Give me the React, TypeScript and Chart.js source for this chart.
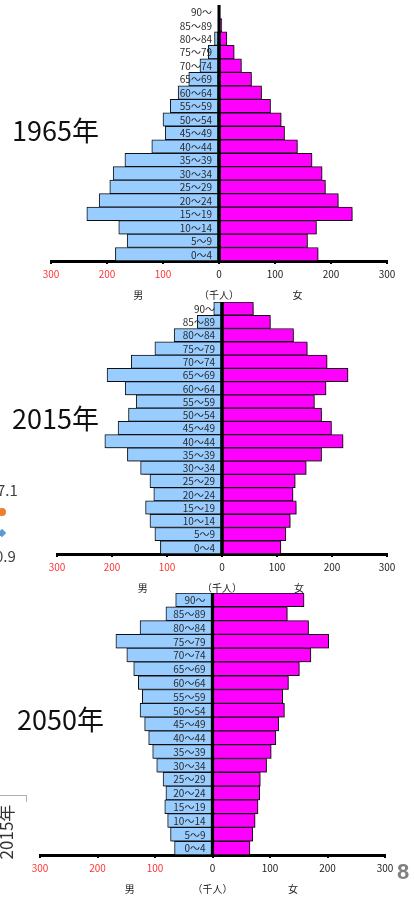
import React, { useEffect, useRef } from 'react';
import { Chart, registerables } from 'chart.js';
Chart.register(...registerables);

const ageGroups = ['90～', '85～89', '80～84', '75～79', '70～74', '65～69', '60～64', '55～59', '50～54', '45～49', '40～44', '35～39', '30～34', '25～29', '20～24', '15～19', '10～14', '5～9', '0～4'];

const male1965 = [0, 1, 8, 19, 34, 54, 73, 87, 100, 96, 120, 168, 189, 195, 214, 236, 179, 164, 185];
const female1965 = [1, 5, 14, 27, 40, 58, 76, 92, 111, 117, 140, 166, 184, 190, 213, 238, 174, 158, 177];
const male2015 = [15, 45, 87, 122, 165, 209, 176, 156, 170, 189, 213, 172, 148, 131, 124, 139, 131, 122, 112];
const female2015 = [57, 88, 130, 155, 191, 229, 189, 168, 181, 199, 220, 181, 153, 133, 129, 135, 124, 116, 107];
const male2050 = [64, 81, 126, 168, 149, 137, 129, 122, 126, 118, 111, 104, 97, 86, 81, 83, 78, 73, 66];
const female2050 = [159, 130, 167, 202, 171, 151, 132, 122, 125, 115, 110, 102, 94, 83, 82, 79, 74, 70, 65];

const axisMin = -300;
const axisMax = 300;
const axisStep = 100;
const sexLabels = ['男', '（千人）', '女'];
const sexLabelValues = [-144, 0, 140];

const JP = '"Noto Sans CJK JP", "Noto Sans", sans-serif';

type PyrProps = {
  top: number;
  height: number;
  padTop: number;
  padLeft: number;
  padRight: number;
  axisH: number;
  male: number[];
  female: number[];
};

function Pyramid({ top, height, padTop, padLeft, padRight, axisH, male, female }: PyrProps) {
  const ref = useRef<HTMLCanvasElement | null>(null);
  useEffect(() => {
    if (!ref.current) return;
    const overlay = {
      id: 'overlay',
      beforeDatasetsDraw(chart: any) {
        const ctx = chart.ctx;
        ctx.save();
        ctx.shadowColor = 'rgba(0,0,0,0.3)';
        ctx.shadowOffsetX = 1;
        ctx.shadowOffsetY = 1;
        ctx.shadowBlur = 1;
      },
      afterDatasetsDraw(chart: any) {
        const ctx = chart.ctx;
        ctx.restore();
        const xs = chart.scales.x;
        const ys = chart.scales.y;
        const area = chart.chartArea;
        const x0 = xs.getPixelForValue(0);
        ctx.save();
        ctx.fillStyle = '#000';
        ctx.fillRect(x0 - 1.5, area.top, 3, area.bottom - area.top);
        ctx.font = `10px ${JP}`;
        ctx.fillStyle = '#2a2a2a';
        ctx.textAlign = 'right';
        ctx.textBaseline = 'middle';
        ageGroups.forEach((g, i) => {
          ctx.fillText(g, x0 - 7, ys.getPixelForValue(i) + 0.5);
        });
        ctx.textAlign = 'center';
        ctx.fillStyle = '#222';
        sexLabels.forEach((s, i) => {
          ctx.fillText(s, xs.getPixelForValue(sexLabelValues[i]), area.bottom + 34);
        });
        ctx.restore();
      },
    };
    const chart = new Chart(ref.current, {
      type: 'bar',
      data: {
        labels: ageGroups,
        datasets: [
          {
            label: '男',
            data: male.map((v) => -v),
            backgroundColor: '#99CCFF',
            borderColor: '#111',
            borderWidth: 1,
            borderSkipped: false,
            barPercentage: 1,
            categoryPercentage: 1,
          },
          {
            label: '女',
            data: female,
            backgroundColor: '#FF00FF',
            borderColor: '#111',
            borderWidth: 1,
            borderSkipped: false,
            barPercentage: 1,
            categoryPercentage: 1,
          },
        ],
      },
      options: {
        indexAxis: 'y',
        responsive: false,
        maintainAspectRatio: false,
        animation: false,
        layout: { padding: { top: padTop, left: padLeft, right: padRight, bottom: 0 } },
        plugins: { legend: { display: false }, tooltip: { enabled: false } },
        scales: {
          x: {
            stacked: true,
            min: axisMin,
            max: axisMax,
            afterFit: (s: any) => {
              s.height = axisH;
            },
            ticks: {
              stepSize: axisStep,
              padding: 4,
              font: { family: JP, size: 10 },
              color: (c: any) => (c.tick && c.tick.value < 0 ? '#FF3333' : '#222'),
              callback: (v: any) => String(Math.abs(Number(v))),
              maxRotation: 0,
            },
            grid: { drawOnChartArea: false, drawTicks: true, tickLength: 3, color: '#000', lineWidth: 2 },
            border: { display: true, color: '#000', width: 3 },
          },
          y: { stacked: true, display: false },
        },
      },
      plugins: [overlay],
    } as any);
    return () => chart.destroy();
  }, []);
  return (
    <canvas
      ref={ref}
      width={414}
      height={height}
      style={{ position: 'absolute', left: 0, top, width: 414, height }}
    />
  );
}

const abs = (s: React.CSSProperties): React.CSSProperties => ({ position: 'absolute', whiteSpace: 'nowrap', ...s });

export default function App() {
  return (
    <div style={{ position: 'absolute', left: 0, top: 0, width: 414, height: 899, overflow: 'hidden', background: '#fff', fontFamily: JP }}>
      <Pyramid top={0} height={300} padTop={5} padLeft={51} padRight={27} axisH={39} male={male1965} female={female1965} />
      <Pyramid top={290} height={310} padTop={12} padLeft={57} padRight={27} axisH={46} male={male2015} female={female2015} />
      <Pyramid top={580} height={319} padTop={13} padLeft={40} padRight={29} axisH={44} male={male2050} female={female2050} />

      <div style={abs({ left: 12, top: 115, fontSize: 27, lineHeight: '30px', color: '#111' })}>1965年</div>
      <div style={abs({ left: 12, top: 403, fontSize: 27, lineHeight: '30px', color: '#111' })}>2015年</div>
      <div style={abs({ left: 17, top: 704, fontSize: 27, lineHeight: '30px', color: '#111' })}>2050年</div>

      <div style={abs({ left: -3, top: 480, fontSize: 15, lineHeight: '20px', color: '#404040' })}>7.1</div>
      <div style={abs({ left: -2, top: 508, width: 8, height: 8, borderRadius: 4, background: '#ED7D31' })} />
      <div style={abs({ left: -1, top: 530, width: 6, height: 6, background: '#5B9BD5', transform: 'rotate(45deg)' })} />
      <div style={abs({ left: -5, top: 546, fontSize: 15, lineHeight: '20px', color: '#404040' })}>0.9</div>

      <div style={abs({ left: 0, top: 795, width: 26, height: 0, borderTop: '1px solid #b0b0b0' })} />
      <div style={abs({ left: 26, top: 795, width: 0, height: 7, borderLeft: '1px solid #b0b0b0' })} />
      <div style={abs({ left: -24, top: 824, width: 60, height: 16, textAlign: 'center', fontSize: 17, lineHeight: '16px', color: '#333', transform: 'rotate(-90deg)', transformOrigin: 'center' })}>2015年</div>

      <div style={abs({ left: 397, top: 858, fontSize: 22, lineHeight: '28px', fontWeight: 'bold', color: '#808080', fontFamily: '"Liberation Sans", sans-serif' })}>8</div>
    </div>
  );
}
